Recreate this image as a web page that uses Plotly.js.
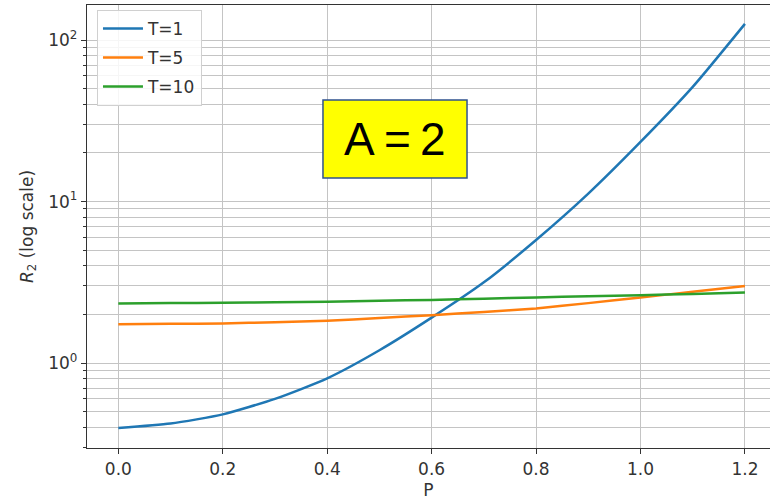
<!DOCTYPE html>
<html>
<head>
<meta charset="utf-8">
<script src="https://cdn.plot.ly/plotly-3.0.1.min.js"></script>
<style>
  html, body { margin: 0; padding: 0; background: #ffffff; }
  #chart { width: 770px; height: 501px; }
</style>
</head>
<body>
<div id="chart"></div>
<script>
// Data
const P = [0.0, 0.1, 0.2, 0.3, 0.4, 0.5, 0.6, 0.7, 0.8, 0.9, 1.0, 1.1, 1.2];
const R2_T1  = [0.396, 0.422, 0.481, 0.600, 0.804, 1.20, 1.91, 3.16, 5.78, 11.2, 23.4, 51.3, 126];
const R2_T5  = [1.74, 1.75, 1.76, 1.79, 1.83, 1.90, 1.98, 2.07, 2.18, 2.35, 2.55, 2.76, 3.00];
const R2_T10 = [2.34, 2.35, 2.36, 2.38, 2.40, 2.43, 2.46, 2.50, 2.55, 2.59, 2.63, 2.68, 2.73];
const seriesNames = ['T=1', 'T=5', 'T=10'];
const xTickVals = [0.0, 0.2, 0.4, 0.6, 0.8, 1.0, 1.2];
const xTickText = ['0.0', '0.2', '0.4', '0.6', '0.8', '1.0', '1.2'];
const yTickVals = [1, 10, 100];
const yTickText = ['10<sup>0</sup>', '10<sup>1</sup>', '10<sup>2</sup>'];
const boxLabel = 'A\u2009=\u20092';

const colors = ['#1f77b4', '#ff7f0e', '#2ca02c'];
const ys = [R2_T1, R2_T5, R2_T10];

const traces = ys.map((y, i) => ({
  x: P, y: y, name: seriesNames[i], type: 'scatter', mode: 'lines',
  legendgroup: 'g' + i,
  line: { color: colors[i], width: 2.5, shape: 'spline', smoothing: 0.6 }
}));

const gridCol = '#c4c4c4';
const layout = {
  width: 770, height: 501,
  margin: { l: 87, r: 0, t: 5, b: 53 },
  paper_bgcolor: '#ffffff', plot_bgcolor: '#ffffff',
  font: { family: 'DejaVu Sans, sans-serif', size: 17, color: '#333333' },
  showlegend: true,
  legend: {
    x: 0.0146, y: 0.989, xanchor: 'left', yanchor: 'top',
    bgcolor: 'rgba(255,255,255,0.85)', bordercolor: '#d0d0d0', borderwidth: 1,
    font: { family: 'DejaVu Sans, sans-serif', size: 17, color: '#333333' },
    itemwidth: 40, tracegroupgap: 4, traceorder: 'grouped'
  },
  xaxis: {
    range: [-0.06, 1.248], tickvals: xTickVals, ticktext: xTickText,
    tickfont: { size: 17, color: '#333333' },
    showgrid: true, gridcolor: gridCol, gridwidth: 1,
    showline: true, linecolor: '#333333', linewidth: 1.2, mirror: true,
    ticks: 'outside', ticklen: 5, tickcolor: '#333333', zeroline: false,
    title: { text: 'P', font: { size: 17, color: '#333333' }, standoff: 6 }
  },
  yaxis: {
    type: 'log', range: [-0.526, 2.217],
    tickvals: yTickVals, ticktext: yTickText,
    tickfont: { size: 17, color: '#333333' },
    showgrid: true, gridcolor: gridCol, gridwidth: 1,
    showline: true, linecolor: '#333333', linewidth: 1.2, mirror: false,
    ticks: 'outside', ticklen: 5, tickcolor: '#333333', zeroline: false,
    minor: { dtick: 'D1', showgrid: true, gridcolor: gridCol, gridwidth: 1,
             ticks: 'outside', ticklen: 3, tickcolor: '#333333' },
    title: { text: '<i>R</i><sub>2</sub> (log scale)', font: { size: 17, color: '#333333' }, standoff: 10 }
  },
  shapes: [{
    type: 'rect', xref: 'paper', yref: 'paper',
    x0: 0.3455, x1: 0.5564, y0: 0.6095, y1: 0.7856,
    fillcolor: '#ffff00', line: { color: '#2f528f', width: 1.5 }, layer: 'above'
  }],
  annotations: [{
    xref: 'paper', yref: 'paper', x: 0.451, y: 0.6975,
    xanchor: 'center', yanchor: 'middle', showarrow: false,
    text: boxLabel,
    font: { family: 'Liberation Sans, Arial, sans-serif', size: 46, color: '#000000' }
  }]
};

Plotly.newPlot('chart', traces, layout, { displayModeBar: false, staticPlot: true });
</script>
</body>
</html>
